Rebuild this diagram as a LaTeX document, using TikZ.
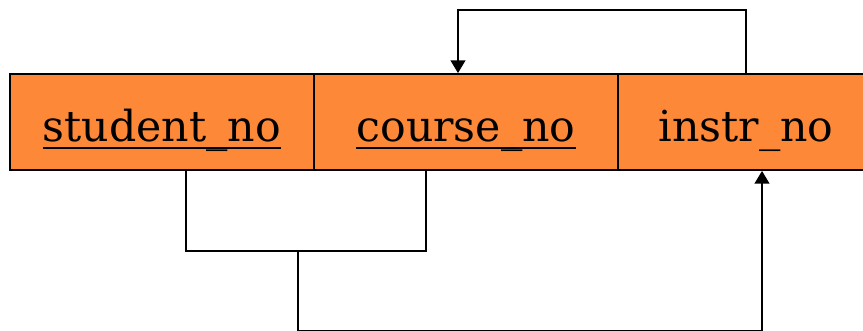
\documentclass[tikz,border=0pt]{standalone}
\usepackage{fontspec}
\setmainfont{DejaVu Serif}
\usetikzlibrary{arrows.meta,calc}
\definecolor{keyorange}{RGB}{253,137,56}
% key attribute: underline with own thickness and depth
\newcommand{\keyattr}[1]{\setbox0\hbox{#1}\rlap{\rule[-5pt]{\wd0}{1.2pt}}\box0}

\begin{document}
\begin{tikzpicture}[x=0.75pt,y=-0.75pt,
  cell/.style={draw,line width=1.4pt,fill=keyorange,minimum height=72pt,
    inner sep=0pt,text height=32pt,text depth=2pt,
    font=\fontsize{32}{36}\selectfont},
  link/.style={line width=1.4pt},
  >={Triangle[length=9.5pt,width=11pt]}]
  \useasboundingbox (0,0) rectangle (863,331);
  \node[cell,minimum width=228pt] (student) at (162,122) {\keyattr{student\_no}};
  \node[cell,minimum width=228pt] (course) at (466,122) {\keyattr{course\_no}};
  \node[cell,minimum width=192pt] (instr) at (746,122) {instr\_no};
  % instr_no -> course_no
  \draw[link,->] (instr.north) -- ++(0,-63) -| ([xshift=-6pt]course.north);
  % student_no, course_no -> instr_no
  \draw[link] ([xshift=18pt]student.south) |- coordinate[pos=0.75] (join) ++(240,80)
    -- ([xshift=-30pt]course.south);
  \draw[link,->] ([xshift=-6pt]join) -- ++(0,80) -| ([xshift=12pt]instr.south);
\end{tikzpicture}
\end{document}
